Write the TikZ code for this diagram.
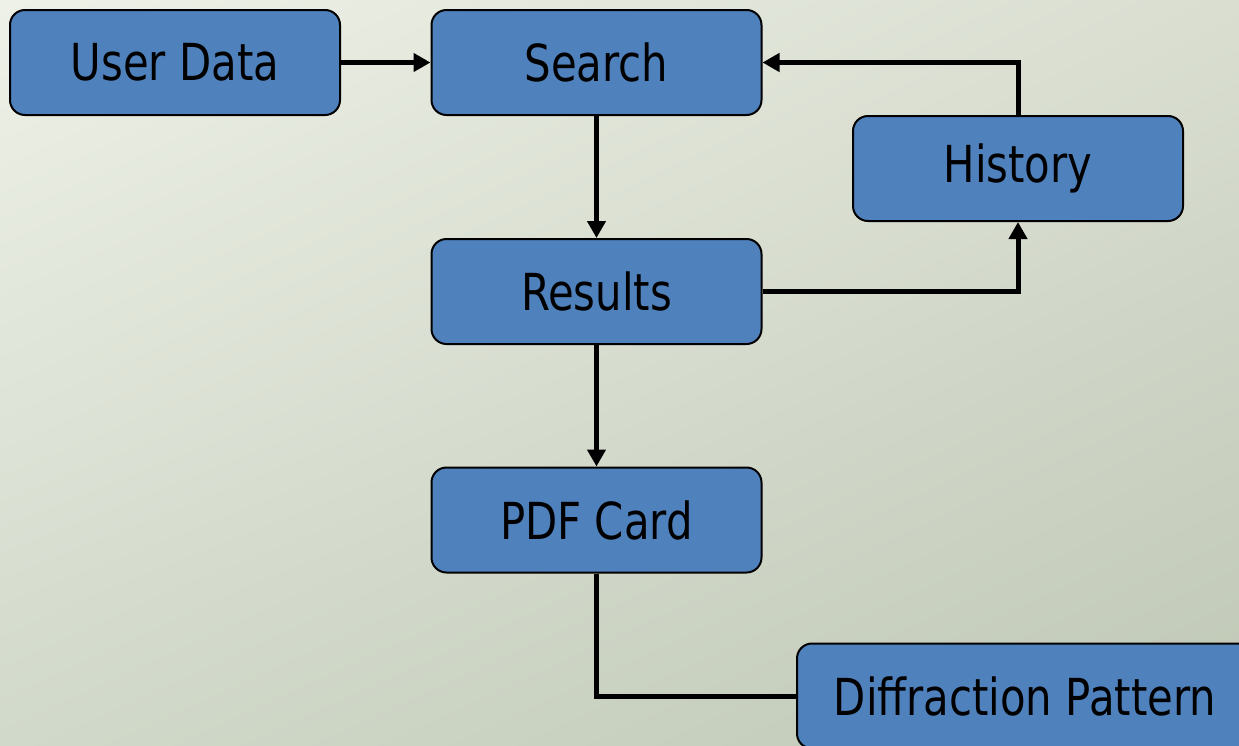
\documentclass[tikz,border=0pt]{standalone}
\usepackage{fontspec}
\setmainfont{DejaVu Sans}[FakeStretch=0.82]
\usetikzlibrary{arrows.meta,calc,shadings}
\definecolor{boxblue}{HTML}{4F81BD}
\definecolor{bgUL}{HTML}{EEF1E7}
\definecolor{bgUR}{HTML}{D9DED1}
\definecolor{bgLL}{HTML}{D1D9CA}
\definecolor{bgLR}{HTML}{BFC7B5}
\begin{document}
\begin{tikzpicture}[x=1pt,y=-1pt,
  box/.style={draw=black,line width=2pt,fill=boxblue,rounded corners=15pt,
    minimum width=330pt,minimum height=105pt,inner sep=0pt,
    font=\fontsize{51}{60}\selectfont,text=black},
  conn/.style={line width=5pt,black},
  arr/.style={conn,-{Triangle[length=17pt,width=18pt]}}]
\useasboundingbox (0,0) rectangle (1239,745);
\shade[upper left=bgUL,upper right=bgUR,lower left=bgLL,lower right=bgLR] (0,0) rectangle (1239,745);
\begin{scope}
\clip (0,0) rectangle (1239,745);
\node[box] (user) at (175,62.5) {\raisebox{-2pt}{User Data}};
\node[box] (search) at (596.5,62.5) {\raisebox{-2pt}{Search}};
\node[box] (history) at (1018,168.5) {\raisebox{-2pt}{History}};
\node[box] (results) at (596.5,291.5) {\raisebox{-2pt}{Results}};
\node[box] (pdf) at (596.5,520) {\raisebox{-2pt}{PDF Card}};
\node[box,minimum width=456pt] (diff) at (1025,696) {\raisebox{-2pt}{Diffraction Pattern}};
\end{scope}
\draw[arr] (user.east) -- (search.west);
\draw[arr] (search.south) -- (results.north);
\draw[arr] (results.east) -| (history.south);
\draw[arr] (history.north) |- (search.east);
\draw[arr] (results.south) -- (pdf.north);
\draw[conn] (pdf.south) |- (diff.west);
\end{tikzpicture}
\end{document}
